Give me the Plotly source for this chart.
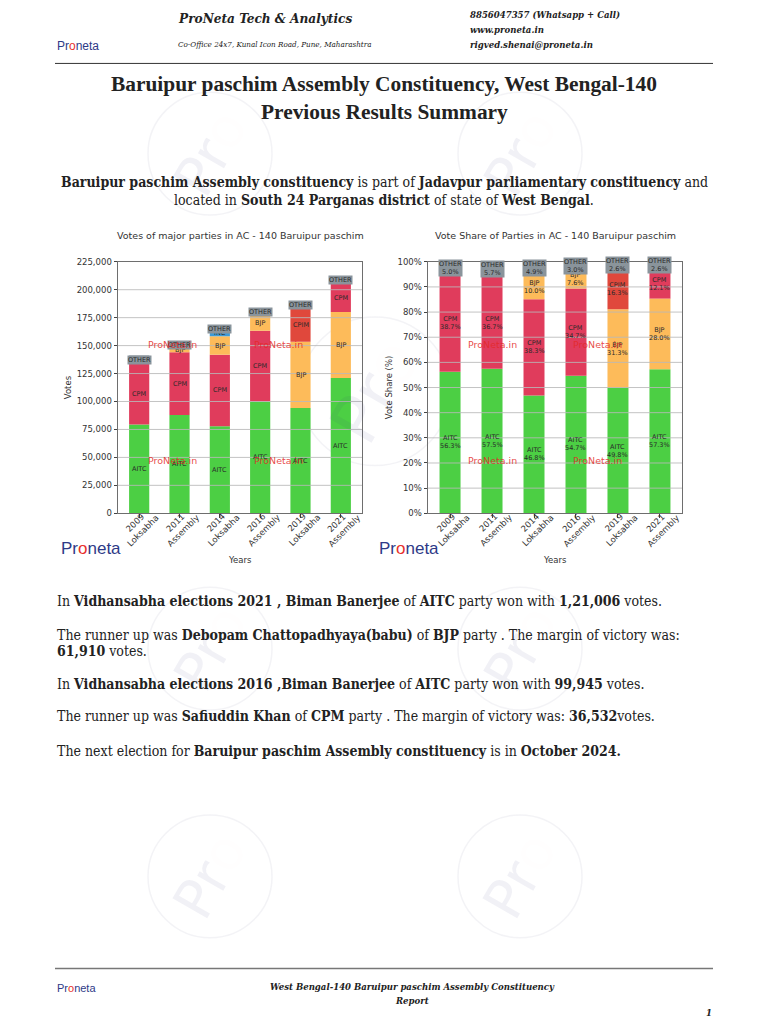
import plotly.graph_objects as go

# ---------------- DATA ----------------
years = ["2009<br>Loksabha", "2011<br>Assembly", "2014<br>Loksabha",
         "2016<br>Assembly", "2019<br>Loksabha", "2021<br>Assembly"]
parties = ["AITC", "CPM", "BJP", "INC", "CPIM", "OTHER"]

aitc_votes = [79430, 88000, 77950, 99945, 94200, 121006]
cpm_votes = [54600, 56170, 63790, 63413, 0, 25550]
bjp_votes = [0, 3700, 16660, 13890, 59210, 59096]
inc_votes = [0, 0, 5100, 0, 0, 0]
cpim_votes = [0, 0, 0, 0, 30830, 0]
other_votes = [7050, 5170, 3060, 5480, 4920, 5530]

aitc_share = [56.3, 57.5, 46.8, 54.7, 49.8, 57.3]
cpm_share = [38.7, 36.7, 38.3, 34.7, 0, 12.1]
bjp_share = [0, 0, 10.0, 7.6, 31.3, 28.0]
inc_share = [0, 0, 0, 0, 0, 0]
cpim_share = [0, 0, 0, 0, 16.3, 0]
other_share = [5.0, 5.7, 4.9, 3.0, 2.6, 2.6]

stack_order = [
    ["AITC", "CPM", "OTHER"],
    ["AITC", "CPM", "BJP", "OTHER"],
    ["AITC", "CPM", "BJP", "INC", "OTHER"],
    ["AITC", "CPM", "BJP", "OTHER"],
    ["AITC", "BJP", "CPIM", "OTHER"],
    ["AITC", "BJP", "CPM", "OTHER"],
]

vote_ticks = [0, 25000, 50000, 75000, 100000, 125000, 150000, 175000, 200000, 225000]
share_ticks = [0, 10, 20, 30, 40, 50, 60, 70, 80, 90, 100]

votes = {"AITC": aitc_votes, "CPM": cpm_votes, "BJP": bjp_votes,
         "INC": inc_votes, "CPIM": cpim_votes, "OTHER": other_votes}
shares = {"AITC": aitc_share, "CPM": cpm_share, "BJP": bjp_share,
          "INC": inc_share, "CPIM": cpim_share, "OTHER": other_share}

colors = {"AITC": "#4ccf44", "CPM": "#e03c5c", "BJP": "#fdbb5a",
          "INC": "#3d9bd8", "CPIM": "#e0483c", "OTHER": "#7f8b94"}

W, H = 768, 1024
def px(x): return x / W
def py(y): return 1 - y / H

SANS = "DejaVu Sans"
SERIF = "DejaVu Serif Condensed, DejaVu Serif, serif"
TITLE_SERIF = "Liberation Serif, serif"

fig = go.Figure()
annotations = []
shapes = []

def pann(x, y, text, size, family=SANS, color="#222", xanchor="center", angle=0, **kw):
    d = dict(x=px(x), y=py(y), xref="paper", yref="paper", showarrow=False,
             xanchor=xanchor, yanchor="middle", text=text, textangle=angle,
             font=dict(family=family, size=size, color=color))
    d.update(kw)
    return d

def add_stack(data, xa, ya, is_share):
    n = len(years)
    bases = {p: [None] * n for p in parties}
    for i in range(n):
        cum = 0
        for p in stack_order[i]:
            v = data[p][i]
            if is_share and v == 0:
                continue
            bases[p][i] = cum
            cum += v
    for p in parties:
        xs, ys, bs = [], [], []
        for i in range(n):
            if bases[p][i] is not None and data[p][i] > 0:
                xs.append(i); ys.append(data[p][i]); bs.append(bases[p][i])
        if not xs:
            continue
        fig.add_trace(go.Bar(x=xs, y=ys, base=bs, width=0.5, xaxis=xa, yaxis=ya,
                             marker=dict(color=colors[p], line=dict(width=0)),
                             name=p, showlegend=False, hoverinfo="skip"))
        for x, y, b in zip(xs, ys, bs):
            txt = f"{p}<br>{y:.1f}%" if is_share else p
            ann = dict(x=x, y=b + y / 2, xref=xa, yref=ya, text=txt, showarrow=False,
                       font=dict(family=SANS, size=6.5, color="#2a2a2a"),
                       xanchor="center", yanchor="middle")
            if p == "OTHER":
                ann.update(bgcolor="#8a949b", borderpad=0)
            annotations.append(ann)

add_stack(votes, "x", "y", False)
add_stack(shares, "x2", "y2", True)

# grid lines drawn above bars
for t in vote_ticks[1:-1]:
    shapes.append(dict(type="line", xref="x domain", yref="y", x0=0, x1=1, y0=t, y1=t,
                       line=dict(color="rgba(185,185,185,0.85)", width=1), layer="above"))
for t in share_ticks[1:-1]:
    shapes.append(dict(type="line", xref="x2 domain", yref="y2", x0=0, x1=1, y0=t, y1=t,
                       line=dict(color="rgba(185,185,185,0.85)", width=1), layer="above"))

yd = [py(513.3), py(259.3)]
axis_common = dict(showline=True, mirror=True, linecolor="#6e6e6e", linewidth=1,
                   ticks="outside", ticklen=3.5, tickcolor="#444", zeroline=False,
                   tickfont=dict(family=SANS, size=8.5, color="#333"))
fig.update_layout(
    xaxis=dict(domain=[px(118), px(362)], range=[-0.525, 5.525], tickvals=list(range(6)),
               showticklabels=False, showgrid=False, anchor="y", **axis_common),
    yaxis=dict(domain=yd, range=[0, 225000], tickvals=vote_ticks,
               ticktext=[f"{t:,}" for t in vote_ticks],
               showgrid=False, anchor="x", **axis_common),
    xaxis2=dict(domain=[px(428), px(682)], range=[-0.525, 5.525], tickvals=list(range(6)),
                showticklabels=False, showgrid=False, anchor="y2", **axis_common),
    yaxis2=dict(domain=yd, range=[0, 100], tickvals=share_ticks,
                ticktext=[f"{t}%" for t in share_ticks],
                showgrid=False, anchor="x2", **axis_common),
)

# rotated x tick labels
for i, lab in enumerate(years):
    for xa in ("x", "x2"):
        annotations.append(dict(x=i, xref=xa, y=py(527), yref="paper", text=lab,
                                textangle=-45, showarrow=False, xanchor="center", yanchor="middle",
                                font=dict(family=SANS, size=8.5, color="#333")))

# chart titles and axis titles
annotations += [
    pann(240, 233, "Votes of major parties in AC - 140 Baruipur paschim", 9.5, color="#333"),
    pann(555, 233, "Vote Share of Parties in AC - 140 Baruipur paschim", 9.5, color="#333"),
    pann(68, 386, "Votes", 8.5, color="#333", angle=-90),
    pann(389, 386, "Vote Share (%)", 8.5, color="#333", angle=-90),
    pann(240, 560, "Years", 8.5, color="#333"),
    pann(555, 560, "Years", 8.5, color="#333"),
]

# red ProNeta.in watermarks
for (wx, wy) in [(172, 343), (278, 343), (172, 460), (278, 460),
                 (492, 343), (597, 343), (492, 460), (597, 460)]:
    annotations.append(pann(wx, wy, "ProNeta.in", 9.5, color="rgba(228,40,40,0.85)"))

# faint background logo circles
for (cx, cy, r) in [(210, 150, 62), (520, 150, 62), (375, 390, 75),
                    (210, 650, 62), (520, 650, 62), (210, 880, 62), (520, 880, 62)]:
    shapes.append(dict(type="circle", xref="paper", yref="paper",
                       x0=px(cx - r), x1=px(cx + r), y0=py(cy + r), y1=py(cy - r),
                       line=dict(color="rgba(200,200,215,0.22)", width=1.5), layer="below"))
    annotations.append(pann(cx, cy, "Pr<span style='color:rgba(230,80,80,0.12)'>o</span>",
                            int(r * 0.9), color="rgba(60,60,130,0.07)", angle=-60))

# logos
def logo(x, y, size):
    return pann(x, y, "Pr<span style='color:#e8302c'>o</span>neta", size,
                family="Liberation Sans Narrow, Liberation Sans, sans-serif",
                color="#2e3a87", xanchor="left")
annotations += [logo(55, 41, 12), logo(59, 549, 17), logo(377, 549, 17), logo(55, 993, 11)]

# header
annotations += [
    pann(176, 13, "<b><i>ProNeta Tech &amp; Analytics</i></b>", 13.5, family=SERIF, xanchor="left"),
    pann(176, 40, "<i>Co-Office 24x7, Kunal Icon Road, Pune, Maharashtra</i>", 8, family=SERIF, xanchor="left"),
    pann(468, 10, "<b><i>8856047357 (Whatsapp + Call)</i></b>", 9.5, family=SERIF, xanchor="left"),
    pann(468, 25, "<b><i>www.proneta.in</i></b>", 9.5, family=SERIF, xanchor="left"),
    pann(468, 40, "<b><i>rigved.shenai@proneta.in</i></b>", 9.5, family=SERIF, xanchor="left"),
]
shapes.append(dict(type="line", xref="paper", yref="paper", x0=px(55), x1=px(713),
                   y0=py(59), y1=py(59), line=dict(color="#333", width=1)))

# title
annotations += [
    pann(384, 80, "<b>Baruipur paschim Assembly Constituency, West Bengal-140</b>", 21.4, family=TITLE_SERIF),
    pann(384, 108, "<b>Previous Results Summary</b>", 21.4, family=TITLE_SERIF),
]

# intro
annotations += [
    pann(384, 179, "<b>Baruipur paschim Assembly constituency</b> is part of <b>Jadavpur parliamentary constituency</b> and",
         14, family=SERIF),
    pann(384, 197, "located in <b>South 24 Parganas district</b> of state of <b>West Bengal</b>.",
         14, family=SERIF),
]

# body lines
body = [
    (602, "In <b>Vidhansabha elections 2021 , Biman Banerjee</b> of <b>AITC</b> party won with <b>1,21,006</b> votes."),
    (636, "The runner up was <b>Debopam Chattopadhyaya(babu)</b> of <b>BJP</b> party . The margin of victory was:"),
    (652, "<b>61,910</b> votes."),
    (686, "In <b>Vidhansabha elections 2016 ,Biman Banerjee</b> of <b>AITC</b> party won with <b>99,945</b> votes."),
    (718, "The runner up was <b>Safiuddin Khan</b> of <b>CPM</b> party . The margin of victory was: <b>36,532</b>votes."),
    (753, "The next election for <b>Baruipur paschim Assembly constituency</b> is in <b>October 2024.</b>"),
]
for y, t in body:
    annotations.append(pann(55, y, t, 14, family=SERIF, xanchor="left"))

# footer
shapes.append(dict(type="line", xref="paper", yref="paper", x0=px(55), x1=px(713),
                   y0=py(973), y1=py(973), line=dict(color="#777", width=1.5)))
annotations += [
    pann(412, 991, "<b><i>West Bengal-140 Baruipur paschim Assembly Constituency</i></b>", 9.5, family=SERIF),
    pann(412, 1005, "<b><i>Report</i></b>", 9.5, family=SERIF),
    pann(709, 1017, "<b><i>1</i></b>", 9.5, family=SERIF),
]

fig.update_layout(width=W, height=H, margin=dict(l=0, r=0, t=0, b=0),
                  paper_bgcolor="white", plot_bgcolor="white", barmode="overlay",
                  annotations=annotations, shapes=shapes, showlegend=False)

fig.write_html("out.html", config={"displayModeBar": False},
               post_script="document.body.style.margin='0';document.body.style.overflow='hidden';")
